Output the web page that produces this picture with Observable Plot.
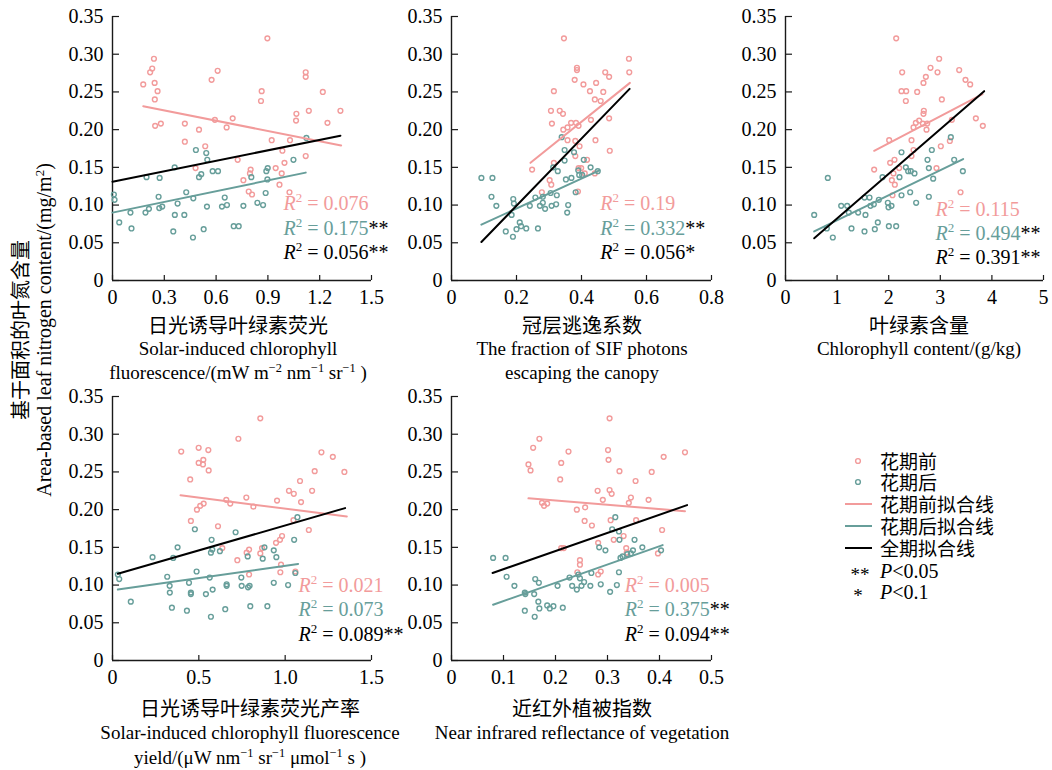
<!DOCTYPE html>
<html><head><meta charset="utf-8">
<script src="https://cdn.jsdelivr.net/npm/d3@7"></script>
<script src="https://cdn.jsdelivr.net/npm/@observablehq/plot@0.6"></script>
<style>
body{margin:0;background:#fff;}
#root{position:relative;width:1052px;height:770px;overflow:hidden;font-family:"Liberation Serif","Times New Roman",serif;color:#000;}
.abs{position:absolute;white-space:nowrap;line-height:1;}
.cn{font-family:"Noto Sans CJK SC",sans-serif;}
.leg{line-height:20px;height:20px;}
sup{font-size:65%;vertical-align:0.55em;line-height:0;}
svg{overflow:visible;}
</style></head>
<body><div id="root"></div>
<script>
const PINK = "#F29B9B", TEAL = "#679E9A", BLACK = "#000";

// ---------- data ----------
const yTicks = [0, 0.05, 0.10, 0.15, 0.20, 0.25, 0.30, 0.35];
const yTickLabels = ["0", "0.05", "0.10", "0.15", "0.20", "0.25", "0.30", "0.35"];

const xTicks1 = [0, 0.3, 0.6, 0.9, 1.2, 1.5];
const xTickLabels1 = ["0", "0.3", "0.6", "0.9", "1.2", "1.5"];
const xTicks2 = [0, 0.2, 0.4, 0.6, 0.8];
const xTickLabels2 = ["0", "0.2", "0.4", "0.6", "0.8"];
const xTicks3 = [0, 1, 2, 3, 4, 5];
const xTickLabels3 = ["0", "1", "2", "3", "4", "5"];
const xTicks4 = [0, 0.5, 1.0, 1.5];
const xTickLabels4 = ["0", "0.5", "1.0", "1.5"];
const xTicks5 = [0, 0.1, 0.2, 0.3, 0.4, 0.5];
const xTickLabels5 = ["0", "0.1", "0.2", "0.3", "0.4", "0.5"];

// Panel 1: SIF
const sifPre = [[0.897,0.321],[0.864,0.251],[0.860,0.238],[1.119,0.276],[1.119,0.270],[1.218,0.250],[1.137,0.225],[1.065,0.221],[1.063,0.212],[1.245,0.209],[1.320,0.225],[0.922,0.186],[1.028,0.186],[0.984,0.172],[0.996,0.156],[0.945,0.149],[0.980,0.142],[0.967,0.127],[1.025,0.117],[0.800,0.147],[0.796,0.142],[0.758,0.133],[0.789,0.118],[0.808,0.114],[1.119,0.165],[0.725,0.160],[0.537,0.178],[0.481,0.149],[0.501,0.200],[0.419,0.208],[0.419,0.184],[0.593,0.213],[0.661,0.203],[0.696,0.215],[0.574,0.266],[0.609,0.278],[0.178,0.260],[0.218,0.276],[0.230,0.281],[0.240,0.294],[0.244,0.262],[0.261,0.251],[0.245,0.240],[0.247,0.205],[0.280,0.208]];
const sifPost = [[0.008,0.114],[0.012,0.107],[0.039,0.077],[0.104,0.090],[0.110,0.069],[0.191,0.090],[0.211,0.095],[0.197,0.137],[0.273,0.136],[0.267,0.111],[0.271,0.096],[0.288,0.098],[0.360,0.150],[0.361,0.087],[0.377,0.102],[0.352,0.065],[0.416,0.087],[0.427,0.117],[0.468,0.109],[0.466,0.057],[0.483,0.173],[0.501,0.137],[0.514,0.141],[0.528,0.068],[0.543,0.169],[0.547,0.098],[0.549,0.160],[0.580,0.145],[0.611,0.145],[0.634,0.098],[0.650,0.110],[0.663,0.100],[0.702,0.072],[0.731,0.072],[0.758,0.099],[0.804,0.137],[0.839,0.103],[0.872,0.100],[0.887,0.116],[0.891,0.145],[0.899,0.149],[0.897,0.134],[1.048,0.160],[1.123,0.189]];
const sifFitPre = [[0.178,0.231],[1.324,0.179]];
const sifFitPost = [[0,0.090],[1.119,0.143]];
const sifFitAll = [[0,0.131],[1.320,0.192]];
const sifR2 = [["0.076",""],["0.175","**"],["0.056","**"]];

// Panel 2: fesc
const fescPre = [[0.346,0.321],[0.386,0.282],[0.386,0.279],[0.379,0.266],[0.406,0.260],[0.315,0.251],[0.426,0.251],[0.445,0.262],[0.467,0.250],[0.473,0.276],[0.485,0.270],[0.546,0.294],[0.547,0.276],[0.441,0.240],[0.459,0.238],[0.306,0.225],[0.333,0.225],[0.343,0.221],[0.309,0.208],[0.344,0.200],[0.357,0.203],[0.368,0.209],[0.383,0.209],[0.391,0.205],[0.429,0.213],[0.485,0.215],[0.357,0.186],[0.381,0.185],[0.394,0.178],[0.443,0.186],[0.487,0.172],[0.248,0.147],[0.315,0.156],[0.381,0.165],[0.417,0.160],[0.391,0.149],[0.399,0.149],[0.410,0.142],[0.441,0.142],[0.302,0.133],[0.307,0.127],[0.278,0.117],[0.389,0.118]];
const fescPost = [[0.092,0.136],[0.126,0.136],[0.123,0.111],[0.138,0.099],[0.167,0.065],[0.190,0.108],[0.192,0.102],[0.185,0.087],[0.189,0.058],[0.210,0.077],[0.214,0.072],[0.230,0.069],[0.200,0.068],[0.241,0.099],[0.258,0.110],[0.266,0.069],[0.272,0.099],[0.281,0.111],[0.281,0.103],[0.288,0.095],[0.305,0.116],[0.308,0.099],[0.313,0.150],[0.327,0.145],[0.324,0.113],[0.322,0.101],[0.339,0.190],[0.348,0.173],[0.348,0.159],[0.352,0.134],[0.359,0.100],[0.356,0.090],[0.369,0.136],[0.377,0.170],[0.382,0.117],[0.390,0.146],[0.393,0.140],[0.402,0.140],[0.407,0.160],[0.428,0.150],[0.450,0.145]];
const fescFitPre = [[0.243,0.156],[0.549,0.262]];
const fescFitPost = [[0.092,0.074],[0.455,0.146]];
const fescFitAll = [[0.092,0.051],[0.548,0.254]];
const fescR2 = [["0.19",""],["0.332","**"],["0.056","*"]];

// Panel 3: chlorophyll
const chlPre = [[2.145,0.321],[2.261,0.276],[2.248,0.251],[2.339,0.251],[2.332,0.238],[2.552,0.250],[2.720,0.270],[2.674,0.262],[2.810,0.282],[2.946,0.276],[2.978,0.294],[3.030,0.240],[3.366,0.279],[3.488,0.266],[3.579,0.260],[3.689,0.215],[3.824,0.205],[3.224,0.213],[2.681,0.225],[2.674,0.221],[2.590,0.212],[2.526,0.209],[2.481,0.203],[2.662,0.208],[2.746,0.208],[2.733,0.200],[2.009,0.186],[2.442,0.186],[2.481,0.173],[2.442,0.165],[2.112,0.160],[2.028,0.156],[1.718,0.147],[2.093,0.142],[2.203,0.149],[2.061,0.133],[2.119,0.127],[2.074,0.113],[2.926,0.149],[3.010,0.178],[3.185,0.185],[3.392,0.117]];
const chlPost = [[0.556,0.087],[0.820,0.136],[0.801,0.069],[0.917,0.057],[1.079,0.099],[1.195,0.099],[1.227,0.090],[1.279,0.069],[1.408,0.090],[1.531,0.110],[1.550,0.087],[1.531,0.065],[1.628,0.110],[1.647,0.099],[1.712,0.101],[1.731,0.068],[1.789,0.077],[1.809,0.107],[1.880,0.137],[1.983,0.103],[1.996,0.097],[2.003,0.072],[2.054,0.099],[2.145,0.072],[2.209,0.137],[2.248,0.170],[2.248,0.113],[2.332,0.150],[2.377,0.145],[2.416,0.117],[2.429,0.145],[2.500,0.142],[2.532,0.103],[2.752,0.160],[2.778,0.149],[2.778,0.111],[2.836,0.173],[2.862,0.135],[3.204,0.190],[3.269,0.160],[3.437,0.145]];
const chlFitPre = [[1.718,0.172],[3.818,0.247]];
const chlFitPost = [[0.556,0.065],[3.443,0.161]];
const chlFitAll = [[0.556,0.056],[3.850,0.251]];
const chlR2 = [["0.115",""],["0.494","**"],["0.391","**"]];

// Panel 4: SIF yield
const yieldPre = [[0.856,0.321],[0.729,0.294],[0.398,0.277],[0.499,0.282],[0.555,0.279],[0.499,0.262],[0.526,0.266],[0.524,0.260],[0.557,0.252],[0.450,0.240],[1.210,0.276],[1.276,0.270],[1.171,0.251],[1.343,0.250],[1.086,0.238],[1.022,0.225],[1.050,0.221],[1.156,0.225],[1.092,0.210],[0.953,0.212],[0.659,0.213],[0.682,0.208],[0.775,0.216],[0.816,0.204],[0.528,0.208],[0.508,0.205],[0.489,0.200],[0.454,0.185],[0.611,0.178],[0.636,0.149],[0.723,0.133],[0.791,0.147],[0.777,0.143],[0.856,0.142],[0.866,0.149],[0.791,0.114],[0.947,0.156],[0.970,0.160],[0.982,0.165],[1.048,0.186],[1.137,0.173],[0.976,0.127],[0.972,0.117],[1.059,0.118]];
const yieldPost = [[0.031,0.114],[0.039,0.108],[0.106,0.078],[0.232,0.137],[0.352,0.136],[0.377,0.150],[0.317,0.111],[0.331,0.099],[0.332,0.090],[0.344,0.070],[0.431,0.066],[0.443,0.103],[0.454,0.090],[0.454,0.088],[0.487,0.118],[0.477,0.174],[0.541,0.088],[0.563,0.110],[0.574,0.160],[0.570,0.143],[0.578,0.147],[0.580,0.094],[0.570,0.058],[0.622,0.145],[0.661,0.099],[0.661,0.101],[0.653,0.068],[0.713,0.170],[0.746,0.110],[0.748,0.099],[0.783,0.138],[0.785,0.097],[0.794,0.099],[0.798,0.072],[0.870,0.135],[0.880,0.150],[0.897,0.072],[0.934,0.146],[0.949,0.137],[0.934,0.103],[1.017,0.100],[1.052,0.160],[1.059,0.116],[1.071,0.190]];
const yieldFitPre = [[0.394,0.219],[1.357,0.191]];
const yieldFitPost = [[0.031,0.094],[1.075,0.128]];
const yieldFitAll = [[0.031,0.115],[1.347,0.202]];
const yieldR2 = [["0.021",""],["0.073",""],["0.089","**"]];

// Panel 5: NIRv
const nirvPre = [[0.304,0.321],[0.169,0.294],[0.157,0.282],[0.148,0.260],[0.152,0.252],[0.211,0.262],[0.225,0.277],[0.209,0.240],[0.301,0.279],[0.302,0.266],[0.323,0.251],[0.385,0.250],[0.408,0.270],[0.449,0.276],[0.354,0.238],[0.281,0.225],[0.304,0.226],[0.308,0.221],[0.291,0.213],[0.345,0.216],[0.341,0.209],[0.379,0.213],[0.174,0.209],[0.184,0.208],[0.178,0.205],[0.257,0.203],[0.241,0.200],[0.256,0.185],[0.270,0.179],[0.306,0.186],[0.355,0.186],[0.312,0.160],[0.331,0.165],[0.336,0.149],[0.337,0.143],[0.282,0.156],[0.211,0.149],[0.216,0.149],[0.247,0.133],[0.247,0.127],[0.242,0.117],[0.287,0.118],[0.282,0.114],[0.405,0.173],[0.397,0.142]];
const nirvPost = [[0.080,0.136],[0.104,0.136],[0.106,0.111],[0.121,0.099],[0.141,0.090],[0.142,0.088],[0.141,0.066],[0.161,0.108],[0.168,0.103],[0.159,0.088],[0.167,0.078],[0.169,0.069],[0.160,0.058],[0.184,0.073],[0.189,0.069],[0.196,0.072],[0.204,0.099],[0.214,0.070],[0.227,0.110],[0.232,0.099],[0.241,0.094],[0.244,0.114],[0.247,0.109],[0.250,0.099],[0.255,0.104],[0.267,0.099],[0.269,0.116],[0.284,0.150],[0.287,0.101],[0.296,0.146],[0.305,0.091],[0.315,0.190],[0.309,0.174],[0.322,0.171],[0.323,0.160],[0.322,0.117],[0.318,0.100],[0.325,0.136],[0.329,0.138],[0.338,0.141],[0.345,0.142],[0.349,0.146],[0.352,0.160],[0.367,0.150],[0.403,0.146]];
const nirvFitPre = [[0.148,0.215],[0.449,0.198]];
const nirvFitPost = [[0.080,0.074],[0.406,0.153]];
const nirvFitAll = [[0.079,0.116],[0.453,0.206]];
const nirvR2 = [["0.005",""],["0.375","**"],["0.094","**"]];

const legendLabels = ["花期前", "花期后", "花期前拟合线", "花期后拟合线", "全期拟合线"];

// ---------- layout ----------
const panels = [
  {left:112, right:371, top:16, xMax:1.5, xTicks:xTicks1, xLab:xTickLabels1, pre:sifPre, post:sifPost, fits:[sifFitPre,sifFitPost,sifFitAll], r2:sifR2, lx:0.99, ly:[0.102,0.069,0.037],
   cx:238, ty:[325,348,372], cn:"日光诱导叶绿素荧光", en:["Solar-induced chlorophyll","fluorescence/(mW m<sup>−2</sup> nm<sup>−1</sup> sr<sup>−1</sup> )"]},
  {left:451, right:711, top:16, xMax:0.8, xTicks:xTicks2, xLab:xTickLabels2, pre:fescPre, post:fescPost, fits:[fescFitPre,fescFitPost,fescFitAll], r2:fescR2, lx:0.458, ly:[0.102,0.069,0.037],
   cx:582, ty:[325,348,372], cn:"冠层逃逸系数", en:["The fraction of SIF photons","escaping the canopy"]},
  {left:785, right:1043, top:16, xMax:5, xTicks:xTicks3, xLab:xTickLabels3, pre:chlPre, post:chlPost, fits:[chlFitPre,chlFitPost,chlFitAll], r2:chlR2, lx:2.907, ly:[0.094,0.062,0.030],
   cx:919, ty:[325,348], cn:"叶绿素含量", en:["Chlorophyll content/(g/kg)"]},
  {left:112, right:371, top:396, xMax:1.5, xTicks:xTicks4, xLab:xTickLabels4, pre:yieldPre, post:yieldPost, fits:[yieldFitPre,yieldFitPost,yieldFitAll], r2:yieldR2, lx:1.077, ly:[0.0994,0.0676,0.0345],
   cx:250, ty:[708,732,757], cn:"日光诱导叶绿素荧光产率", en:["Solar-induced chlorophyll fluorescence","yield/(μW nm<sup>−1</sup> sr<sup>−1</sup> μmol<sup>−1</sup> s )"]},
  {left:451, right:711, top:396, xMax:0.5, xTicks:xTicks5, xLab:xTickLabels5, pre:nirvPre, post:nirvPost, fits:[nirvFitPre,nirvFitPost,nirvFitAll], r2:nirvR2, lx:0.333, ly:[0.0994,0.0676,0.0345],
   cx:582, ty:[708,732], cn:"近红外植被指数", en:["Near infrared reflectance of vegetation"]}
];

const root = document.getElementById("root");
const ML = 62, MR = 22, MT = 12, MB = 32, IH = 264;
const AX = "#1a1a1a";

function addDiv(html, cx, cy, cls, size, extra) {
  const d = document.createElement("div");
  d.className = "abs " + (cls || "");
  d.innerHTML = html;
  d.style.left = cx + "px";
  d.style.top = cy + "px";
  d.style.fontSize = size + "px";
  d.style.transform = "translate(-50%,-50%)" + (extra || "");
  root.appendChild(d);
  return d;
}

panels.forEach(p => {
  const IW = p.right - p.left;
  const lineColors = [PINK, TEAL, BLACK];
  const r2rows = p.r2.map((r, i) => ({v: r[0], s: r[1], c: lineColors[i], y: p.ly[i]}));
  const plot = Plot.plot({
    width: ML + IW + MR,
    height: MT + IH + MB,
    marginLeft: ML, marginRight: MR, marginTop: MT, marginBottom: MB,
    x: {domain: [0, p.xMax]},
    y: {domain: [0, 0.35]},
    style: {fontFamily: '"Liberation Serif","Times New Roman",serif', fontSize: "20px", color: "#000", background: "transparent", overflow: "visible"},
    marks: [
      Plot.axisY({ticks: yTicks, tickFormat: d => yTickLabels[yTicks.indexOf(d)], tickSize: 0, tickPadding: 9, label: null}),
      Plot.axisX({ticks: p.xTicks, tickFormat: d => p.xLab[p.xTicks.indexOf(d)], tickSize: 0, tickPadding: 9, label: null}),
      Plot.ruleX(p.xTicks, {x: d => d, y1: 0, y2: 0.35 * 5 / IH, stroke: AX, strokeWidth: 1.2}),
      Plot.ruleY(yTicks, {y: d => d, x1: 0, x2: p.xMax * 7 / IW, stroke: AX, strokeWidth: 1.2}),
      Plot.ruleX([0], {stroke: AX, strokeWidth: 1.4}),
      Plot.ruleY([0], {stroke: AX, strokeWidth: 1.4}),
      Plot.dot(p.pre, {x: d => d[0], y: d => d[1], r: 2.4, stroke: PINK, strokeWidth: 1.4, fill: "none"}),
      Plot.dot(p.post, {x: d => d[0], y: d => d[1], r: 2.4, stroke: TEAL, strokeWidth: 1.4, fill: "none"}),
      Plot.line(p.fits[0], {x: d => d[0], y: d => d[1], stroke: PINK, strokeWidth: 2}),
      Plot.line(p.fits[1], {x: d => d[0], y: d => d[1], stroke: TEAL, strokeWidth: 2}),
      Plot.line(p.fits[2], {x: d => d[0], y: d => d[1], stroke: BLACK, strokeWidth: 2}),
      Plot.text(r2rows, {x: () => p.lx, y: d => d.y, text: d => d.v + "|" + d.s, fill: d => d.c, textAnchor: "start", fontSize: 20})
    ]
  });
  plot.style.position = "absolute";
  plot.style.left = (p.left - ML) + "px";
  plot.style.top = (p.top - MT) + "px";
  root.appendChild(plot);

  // rich text for R² labels
  d3.select(plot).selectAll("text").filter(function() { return this.textContent.includes("|"); }).each(function() {
    const [v, s] = this.textContent.split("|");
    const t = d3.select(this);
    t.text(null);
    t.append("tspan").attr("font-style", "italic").text("R");
    t.append("tspan").attr("dy", -8).attr("font-size", 13).text("2");
    t.append("tspan").attr("dy", 8).text(" = " + v);
    if (s) t.append("tspan").attr("fill", "#000").text(s);
  });

  addDiv(p.cn, p.cx, p.ty[0], "cn", 20);
  p.en.forEach((line, i) => addDiv(line, p.cx, p.ty[i + 1], "", 19));
});

// shared y label
addDiv("基于面积的叶氮含量", 20, 330, "cn", 20, " rotate(-90deg)");
addDiv("Area-based leaf nitrogen content/(mg/m<sup>2</sup>)", 44, 330, "", 20, " rotate(-90deg)");

// legend
const legRows = [461, 482, 504, 526, 548, 571, 592];
const legSvg = d3.select(root).append("svg")
  .attr("width", 60).attr("height", 170)
  .style("position", "absolute").style("left", "830px").style("top", "445px");
const oy = 445, ox = 830;
legSvg.append("circle").attr("cx", 858 - ox).attr("cy", legRows[0] - oy).attr("r", 2.4).attr("fill", "none").attr("stroke", PINK).attr("stroke-width", 1.4);
legSvg.append("circle").attr("cx", 858 - ox).attr("cy", legRows[1] - oy).attr("r", 2.4).attr("fill", "none").attr("stroke", TEAL).attr("stroke-width", 1.4);
[PINK, TEAL, BLACK].forEach((c, i) => {
  legSvg.append("line").attr("x1", 845 - ox).attr("x2", 872 - ox).attr("y1", legRows[2 + i] - oy).attr("y2", legRows[2 + i] - oy).attr("stroke", c).attr("stroke-width", 2);
});
legendLabels.forEach((l, i) => {
  const d = document.createElement("div");
  d.className = "abs cn leg";
  d.style.left = "880px"; d.style.top = (legRows[i] - 10) + "px"; d.style.fontSize = "19px";
  d.textContent = l;
  root.appendChild(d);
});
addDiv("**", 860, legRows[5] + 3, "", 19);
addDiv("*", 858, legRows[6] + 3, "", 19);
[["<i>P</i>&lt;0.05", 5], ["<i>P</i>&lt;0.1", 6]].forEach(([h, i]) => {
  const d = document.createElement("div");
  d.className = "abs leg";
  d.style.left = "880px"; d.style.top = (legRows[i] - 10) + "px"; d.style.fontSize = "20px";
  d.innerHTML = h;
  root.appendChild(d);
});
</script>
</body></html>
